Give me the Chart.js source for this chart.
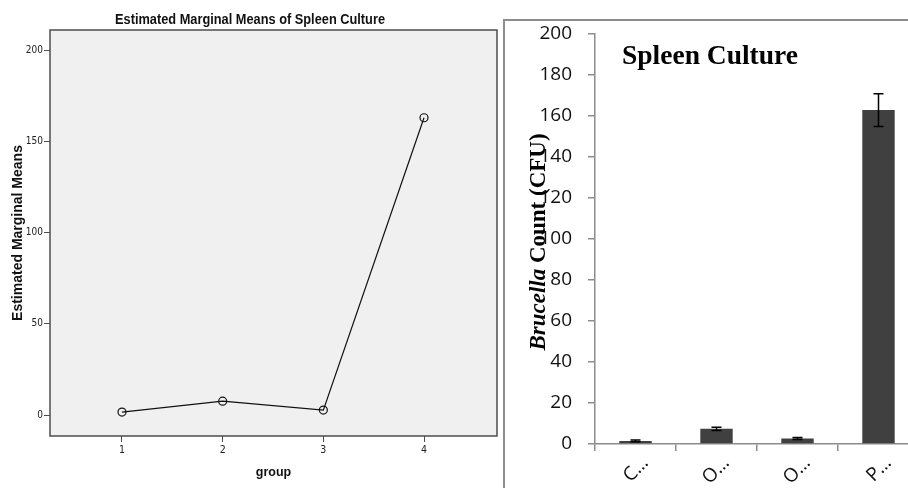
<!DOCTYPE html>
<html><head><meta charset="utf-8">
<script src="https://cdn.jsdelivr.net/npm/chart.js@4"></script>
<style>
html,body{margin:0;padding:0;background:#fff;overflow:hidden;width:908px;height:488px;}
#wrapL{position:absolute;left:0;top:0;width:505px;height:488px;}
#wrapR{position:absolute;left:503px;top:0;width:425px;height:488px;}
canvas{display:block;}
</style></head><body>
<div id="wrapL"><canvas id="left" width="505" height="488"></canvas></div>
<div id="wrapR"><canvas id="right" width="425" height="488"></canvas></div>
<script>
// ---- Left panel data (SPSS estimated marginal means) ----
const leftTitle = 'Estimated Marginal Means of Spleen Culture';
const groups = [1, 2, 3, 4];
const marginalMeans = [1.6, 7.6, 2.7, 162.9];
const leftYTicks = [0, 50, 100, 150, 200];

// ---- Right panel data (bar chart with error bars) ----
const rightTitle = 'Spleen Culture';
const categories = ['C…', 'O…', 'O…', 'P…'];
const countMeans = [1.5, 7.4, 2.7, 162.9];
const countErrors = [0.4, 0.8, 0.5, 8.0];
const rightYTicks = [0, 20, 40, 60, 80, 100, 120, 140, 160, 180, 200];

const narrow = '"Liberation Sans Narrow", "DejaVu Sans Condensed", "Liberation Sans", sans-serif';
const sans = '"Liberation Sans", Arial, sans-serif';
const serif = '"Liberation Serif", "Times New Roman", serif';
const calib = '"Open Sans", "Noto Sans", sans-serif';

const leftDecor = {
  id: 'leftDecor',
  beforeDraw(c) {
    const {ctx, chartArea: a} = c;
    ctx.save();
    ctx.fillStyle = '#f0f0f0';
    ctx.fillRect(a.left, a.top, a.right - a.left, a.bottom - a.top);
    ctx.restore();
  },
  afterDraw(c) {
    const {ctx, chartArea: a} = c;
    ctx.save();
    ctx.strokeStyle = '#4d4d4d';
    ctx.lineWidth = 1.5;
    ctx.strokeRect(a.left, a.top, a.right - a.left, a.bottom - a.top);
    ctx.fillStyle = '#111';
    ctx.font = 'bold 15px ' + sans;
    ctx.textAlign = 'center';
    ctx.textBaseline = 'alphabetic';
    const w = ctx.measureText(leftTitle).width;
    const sx = Math.min(1, 270 / w);
    ctx.translate(250, 24);
    ctx.scale(sx, 1);
    ctx.fillText(leftTitle, 0, 0);
    ctx.restore();
  }
};

new Chart(document.getElementById('left'), {
  type: 'line',
  data: {
    datasets: [{
      data: groups.map((g, i) => ({x: g, y: marginalMeans[i]})),
      borderColor: '#111', borderWidth: 1.2, tension: 0, fill: false,
      pointRadius: 4, pointBorderColor: '#111', pointBackgroundColor: 'rgba(0,0,0,0)', pointBorderWidth: 1.2
    }]
  },
  options: {
    responsive: false, animation: false, events: [],
    layout: {padding: {top: 30, right: 8, left: 0, bottom: 0}},
    plugins: {legend: {display: false}, tooltip: {enabled: false}},
    scales: {
      x: {
        type: 'linear', min: 0.285, max: 4.725,
        afterBuildTicks: s => { s.ticks = groups.map(v => ({value: v})); },
        afterFit: s => { s.height = 52; },
        grid: {drawOnChartArea: false, tickLength: 6, color: '#4d4d4d', lineWidth: 1},
        border: {display: false},
        ticks: {font: {family: narrow, size: 10.5}, color: '#222', padding: 2, callback: v => String(v)},
        title: {display: true, text: 'group', font: {family: sans, size: 12.5, weight: 'bold'}, color: '#111', padding: {top: 0, bottom: 8}}
      },
      y: {
        min: -11.5, max: 211,
        afterBuildTicks: s => { s.ticks = leftYTicks.map(v => ({value: v})); },
        afterFit: s => { s.width = 50; },
        grid: {drawOnChartArea: false, tickLength: 6, color: '#4d4d4d', lineWidth: 1},
        border: {display: false},
        ticks: {font: {family: narrow, size: 10}, color: '#222', padding: 1, callback: v => String(v)},
        title: {display: true, text: 'Estimated Marginal Means', font: {family: sans, size: 14, weight: 'bold'}, color: '#111', padding: {top: 10, bottom: 0}}
      }
    }
  },
  plugins: [leftDecor]
});

const rightDecor = {
  id: 'rightDecor',
  beforeDraw(c) {
    const {ctx, width} = c;
    ctx.save();
    ctx.strokeStyle = '#8c8c8c';
    ctx.lineWidth = 2;
    ctx.beginPath();
    ctx.moveTo(1, 488); ctx.lineTo(1, 20); ctx.lineTo(width, 20);
    ctx.stroke();
    ctx.restore();
  },
  afterDatasetsDraw(c) {
    const {ctx} = c;
    const y = c.scales.y;
    const meta = c.getDatasetMeta(0);
    ctx.save();
    ctx.strokeStyle = '#000';
    ctx.lineWidth = 1.5;
    meta.data.forEach((el, i) => {
      const v = countMeans[i], e = countErrors[i];
      const yt = y.getPixelForValue(v + e), yb = y.getPixelForValue(v - e);
      ctx.beginPath();
      ctx.moveTo(el.x, yt); ctx.lineTo(el.x, yb);
      ctx.moveTo(el.x - 5, yt); ctx.lineTo(el.x + 5, yt);
      ctx.moveTo(el.x - 5, yb); ctx.lineTo(el.x + 5, yb);
      ctx.stroke();
    });
    ctx.restore();
  },
  afterDraw(c) {
    const {ctx} = c;
    ctx.save();
    ctx.fillStyle = '#000';
    ctx.textBaseline = 'alphabetic';
    ctx.textAlign = 'left';
    ctx.font = 'bold 27.5px ' + serif;
    ctx.fillText(rightTitle, 119, 64);
    // rotated axis title with italic genus name
    const p1 = 'Brucella', p2 = ' Count (CFU)';
    const f1 = 'italic bold 23px ' + serif, f2 = 'bold 23px ' + serif;
    ctx.font = f1; const w1 = ctx.measureText(p1).width;
    ctx.font = f2; const w2 = ctx.measureText(p2).width;
    ctx.translate(42, 242);
    ctx.rotate(-Math.PI / 2);
    const x0 = -(w1 + w2) / 2;
    ctx.font = f1; ctx.fillText(p1, x0, 0);
    ctx.font = f2; ctx.fillText(p2, x0 + w1, 0);
    ctx.restore();
  }
};

new Chart(document.getElementById('right'), {
  type: 'bar',
  data: {
    labels: categories,
    datasets: [{data: countMeans, backgroundColor: '#404040', borderWidth: 0, barPercentage: 0.4, categoryPercentage: 1}]
  },
  options: {
    responsive: false, animation: false, events: [],
    layout: {padding: {top: 34, right: 9, left: 0, bottom: 0}},
    plugins: {legend: {display: false}, tooltip: {enabled: false}},
    scales: {
      x: {
        afterFit: s => { s.height = 44; },
        grid: {drawOnChartArea: false, tickLength: 7, color: '#8c8c8c', lineWidth: 1.5, offset: true},
        border: {color: '#8c8c8c', width: 1.5},
        ticks: {minRotation: 45, maxRotation: 45, autoSkip: false, labelOffset: 10, font: {family: calib, size: 19}, color: '#111', padding: 1}
      },
      y: {
        min: 0, max: 200,
        afterBuildTicks: s => { s.ticks = rightYTicks.map(v => ({value: v})); },
        afterFit: s => { s.width = 92; },
        grid: {drawOnChartArea: false, tickLength: 7, color: '#8c8c8c', lineWidth: 1.5},
        border: {color: '#8c8c8c', width: 1.5},
        ticks: {font: {family: calib, size: 19}, color: '#111', padding: 16, callback: v => String(v)}
      }
    }
  },
  plugins: [rightDecor]
});
</script>
</body></html>
